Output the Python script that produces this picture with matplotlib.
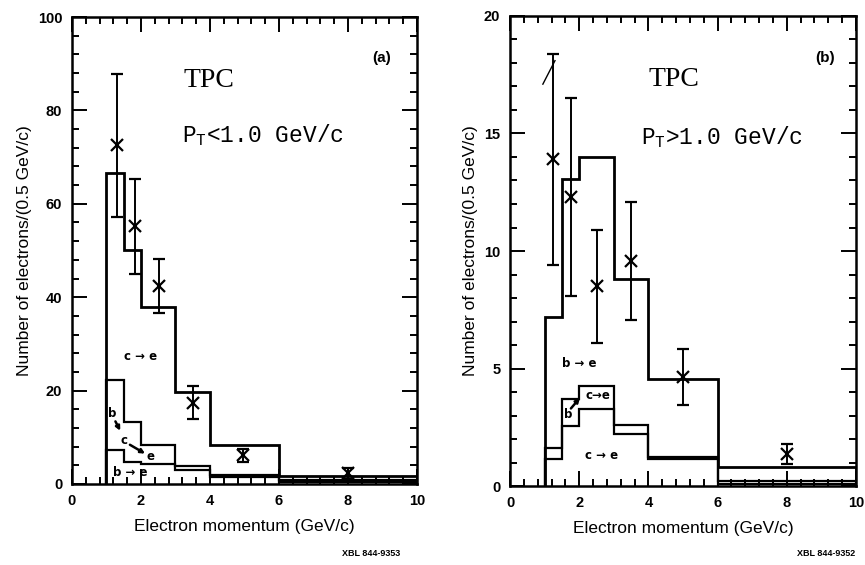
import matplotlib
matplotlib.use("Agg")
import matplotlib.pyplot as plt
from matplotlib.ticker import MultipleLocator

plt.rcParams["font.family"] = ["Liberation Sans", "DejaVu Sans"]
plt.rcParams["mathtext.default"] = "regular"

# momentum bin edges (GeV/c)
edges = [1.0, 1.5, 2.0, 3.0, 4.0, 6.0, 10.0]

# (a) P_T < 1.0 GeV/c
a_total = [66.5, 50.0, 38.0, 19.8, 8.4, 1.7]
a_bce = [22.3, 13.3, 8.35, 3.85, 2.0, 0.86]
a_be = [7.3, 4.8, 4.3, 3.0, 1.5, 0.4]
a_x = [1.3, 1.83, 2.52, 3.5, 4.95, 8.0]
a_y = [72.5, 55.2, 42.4, 17.4, 6.1, 2.3]
a_err = [15.4, 10.2, 5.7, 3.5, 1.3, 1.2]

# (b) P_T > 1.0 GeV/c
b_total = [7.2, 13.05, 14.0, 8.8, 4.55, 0.8]
b_bce = [1.63, 3.69, 4.26, 2.6, 1.25, 0.2]
b_ce = [1.13, 2.55, 3.26, 2.2, 1.13, 0.1]
b_x = [1.25, 1.75, 2.5, 3.5, 5.0, 8.0]
b_y = [13.9, 12.3, 8.5, 9.57, 4.65, 1.35]
b_err = [4.5, 4.2, 2.4, 2.5, 1.2, 0.42]

fig = plt.figure(figsize=(8.65, 5.65), dpi=100)
axA = fig.add_axes([0.0832, 0.1434, 0.3988, 0.8265])
axB = fig.add_axes([0.5896, 0.1398, 0.4000, 0.8319])


def style_axes(ax, ymax, ymajor, yminor):
    ax.set_xlim(0, 10)
    ax.set_ylim(0, ymax)
    ax.xaxis.set_major_locator(MultipleLocator(2))
    ax.xaxis.set_minor_locator(MultipleLocator(0.4))
    ax.yaxis.set_major_locator(MultipleLocator(ymajor))
    ax.yaxis.set_minor_locator(MultipleLocator(yminor))
    ax.tick_params(which="both", direction="in", top=True, right=True,
                   width=1.4, colors="black")
    ax.tick_params(which="major", length=11, pad=7)
    ax.tick_params(which="minor", length=5)
    for lab in ax.get_xticklabels() + ax.get_yticklabels():
        lab.set_fontsize(10.5)
        lab.set_fontweight("bold")
    for sp in ax.spines.values():
        sp.set_linewidth(1.8)
    ax.set_xlabel("Electron momentum (GeV/c)", fontsize=12.5, labelpad=8)
    ax.set_ylabel("Number of electrons/(0.5 GeV/c)", fontsize=12.5, labelpad=4)


def draw_hist(ax, vals, lw):
    ax.stairs(vals, edges, baseline=0, color="black", linewidth=lw)


def draw_points(ax, xs, ys, errs):
    ax.errorbar(xs, ys, yerr=errs, fmt="x", color="black", markersize=8,
                markeredgewidth=1.6, elinewidth=1.4, capsize=4, capthick=1.4)


lab = dict(fontsize=8.5, fontweight="bold", ha="center", va="center",
           family=["DejaVu Sans"])
arrow = dict(arrowstyle="-|>", color="black", lw=1.8, mutation_scale=6,
             shrinkA=0, shrinkB=0)
title_font = dict(family=["Liberation Serif"], fontsize=20, va="center", ha="left")
cut_font = dict(family=["Liberation Mono"], fontsize=16.5, va="center", ha="left")

# ---- panel (a)
style_axes(axA, 100, 20, 4)
draw_hist(axA, a_total, 2.0)
draw_hist(axA, a_bce, 1.6)
draw_hist(axA, a_be, 1.6)
draw_points(axA, a_x, a_y, a_err)
axA.text(3.22, 86.5, "TPC", **title_font)
axA.text(3.18, 74.7, "P$_{T}$<1.0 GeV/c", **cut_font)
axA.text(8.99, 91.2, "(a)", fontsize=11, fontweight="bold", ha="center", va="center")
axA.text(2.0, 27.4, "c \u2192 e", **lab)
axA.text(1.7, 2.4, "b \u2192 e", **lab)
axA.text(1.18, 15.0, "b", **lab)
axA.text(1.5, 9.4, "c", **lab)
axA.text(2.27, 5.9, "e", **lab)
axA.annotate("", xy=(1.4, 11.4), xytext=(1.26, 13.4), arrowprops=arrow)
axA.annotate("", xy=(2.12, 6.5), xytext=(1.68, 8.4), arrowprops=arrow)

# ---- panel (b)
style_axes(axB, 20, 5, 1)
draw_hist(axB, b_total, 2.0)
draw_hist(axB, b_bce, 1.6)
draw_hist(axB, b_ce, 1.6)
draw_points(axB, b_x, b_y, b_err)
axB.text(3.99, 17.3, "TPC", **title_font)
axB.text(3.8, 14.85, "P$_{T}$>1.0 GeV/c", **cut_font)
axB.text(9.1, 18.2, "(b)", fontsize=11, fontweight="bold", ha="center", va="center")
axB.text(2.0, 5.2, "b \u2192 e", **lab)
axB.text(2.65, 1.28, "c \u2192 e", **lab)
axB.text(1.68, 3.05, "b", **lab)
axB.text(2.55, 3.87, "c\u2192e", **lab)
axB.annotate("", xy=(2.02, 3.75), xytext=(1.76, 3.3), arrowprops=arrow)
# pen stroke near the first point
axB.plot([0.95, 1.3], [17.1, 18.1], color="black", lw=1.0)

fig.text(400 / 865, 1 - 553 / 565, "XBL 844-9353", fontsize=6.5, fontweight="bold",
         ha="right", va="center")
fig.text(855 / 865, 1 - 553 / 565, "XBL 844-9352", fontsize=6.5, fontweight="bold",
         ha="right", va="center")

fig.savefig("out.png", dpi=100)
